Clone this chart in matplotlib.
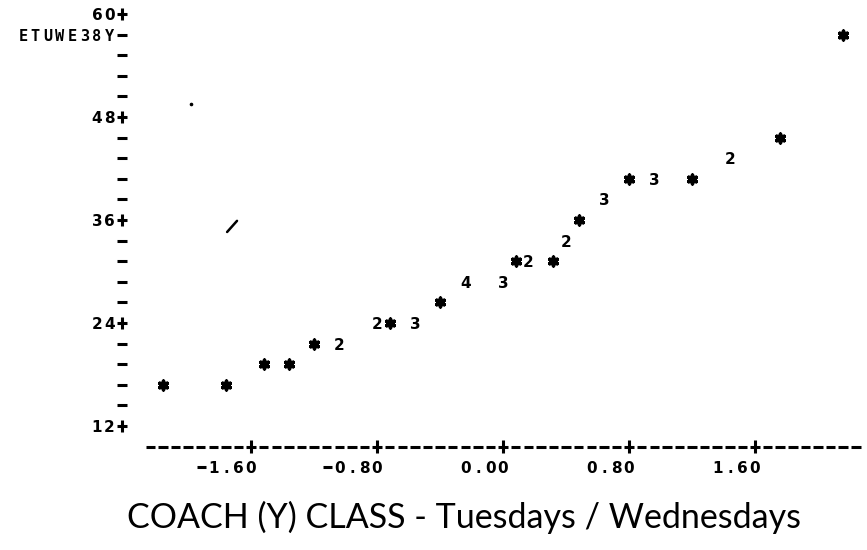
import matplotlib
matplotlib.use("Agg")
import matplotlib.pyplot as plt

# ---- plotted observations (x, y, number of coincident points) ----
x_vals = [-2.16, -1.76, -1.52, -1.36, -1.20, -1.04, -0.80, -0.72, -0.56, -0.40,
          -0.24, 0.00, 0.08, 0.16, 0.32, 0.40, 0.48, 0.64, 0.80, 0.96,
          1.20, 1.44, 1.76, 2.16]
y_vals = [16.8, 16.8, 19.2, 19.2, 21.6, 21.6, 24.0, 24.0, 24.0, 26.4,
          28.8, 28.8, 31.2, 31.2, 31.2, 33.6, 36.0, 38.4, 40.8, 40.8,
          40.8, 43.2, 45.6, 57.6]
counts = [1, 1, 1, 1, 1, 2, 2, 1, 3, 1,
          4, 3, 1, 2, 1, 2, 1, 3, 1, 3,
          1, 2, 1, 1]

# ---- axis description ----
y_tick_values = [60, 48, 36, 24, 12]
y_tick_labels = ["60", "48", "36", "24", "12"]
y_label = "ETUWE38Y"
x_tick_values = [-1.60, -0.80, 0.00, 0.80, 1.60]
x_tick_labels = ["-1.60", "-0.80", "0.00", "0.80", "1.60"]
title = "COACH (Y) CLASS - Tuesdays / Wednesdays"

# printer grid: one column = 0.08 in x, one line = 2.4 in y
COL = 0.08
ROW = 2.4
Y_TOP, Y_BOTTOM = 60.0, 12.0
AXIS_COL_X = -2.42          # column that carries the vertical axis marks
X_AXIS_Y = Y_BOTTOM - ROW    # printed line holding the horizontal axis
X_LABEL_Y = Y_BOTTOM - 2 * ROW
X_COLS = range(-28, 29)

W, H = 867, 550
fig = plt.figure(figsize=(W / 100, H / 100), dpi=100)
ax = fig.add_axes([0, 0, 1, 1])
ax.set_xlim(-3.194, 2.311)
ax.set_ylim(-2.45, 61.63)
ax.axis("off")

mono = dict(family="DejaVu Sans", fontweight="bold", fontsize=11,
            color="black", ha="center", va="center_baseline")
dash_half = 0.030
dash_lw = 2.2


def put_chars(text, last_x, y, **kw):
    """Print a string one character per column, last character at last_x."""
    n = len(text)
    for i, ch in enumerate(text):
        cx = last_x - (n - 1 - i) * COL * 0.98
        if ch == "-":
            ax.hlines(y, cx - dash_half, cx + dash_half, color="black", lw=dash_lw)
        else:
            ax.text(cx, y, ch, **{**mono, **kw})


def plus(x, y):
    """A heavy printer '+' drawn from two strokes."""
    ax.hlines(y, x - 0.030, x + 0.030, color="black", lw=2.2)
    ax.vlines(x, y - 0.75, y + 0.75, color="black", lw=2.2)


# vertical axis: "+" at labelled lines, "-" elsewhere
n_rows = int(round((Y_TOP - Y_BOTTOM) / ROW)) + 1
for r in range(n_rows):
    yv = Y_TOP - r * ROW
    hits = [abs(yv - t) < 1e-6 for t in y_tick_values]
    if any(hits):
        plus(AXIS_COL_X, yv)
        put_chars(y_tick_labels[hits.index(True)], AXIS_COL_X - COL, yv)
    else:
        ax.hlines(yv, AXIS_COL_X - dash_half, AXIS_COL_X + dash_half,
                  color="black", lw=dash_lw)
put_chars(y_label, AXIS_COL_X - COL, Y_TOP - ROW,
          family="DejaVu Sans Mono", fontsize=11)

# horizontal axis: dashes with "+" at tick columns
for c in X_COLS:
    xv = c * COL
    if any(abs(xv - t) < 1e-6 for t in x_tick_values):
        plus(xv, X_AXIS_Y)
    else:
        ax.hlines(X_AXIS_Y, xv - dash_half, xv + dash_half, color="black", lw=dash_lw)
for t, lab in zip(x_tick_values, x_tick_labels):
    put_chars(lab, t, X_LABEL_Y)

# points: single observations as asterisks, coincident ones as their count
single_x = [x for x, n in zip(x_vals, counts) if n == 1]
single_y = [y for y, n in zip(y_vals, counts) if n == 1]
ax.scatter(single_x, single_y, marker=(6, 2, 0), s=38, linewidths=2.6,
           color="black")
for x, y, n in zip(x_vals, y_vals, counts):
    if n > 1:
        ax.text(x, y, str(n), **mono)

# stray pen marks on the sheet
ax.plot([-1.752, -1.689], [34.6, 35.9], color="black", lw=1.8,
        solid_capstyle="round")
ax.plot([-1.981], [49.5], marker="o", ms=1.6, color="black")

# hand-lettered caption below the axis
ax.text(0.535, 0.040, title, transform=ax.transAxes, ha="center",
        va="baseline", fontsize=24.5, family=["Lato", "DejaVu Sans"],
        fontweight="normal", color="black")

fig.savefig("out.png", dpi=100, facecolor="white")
